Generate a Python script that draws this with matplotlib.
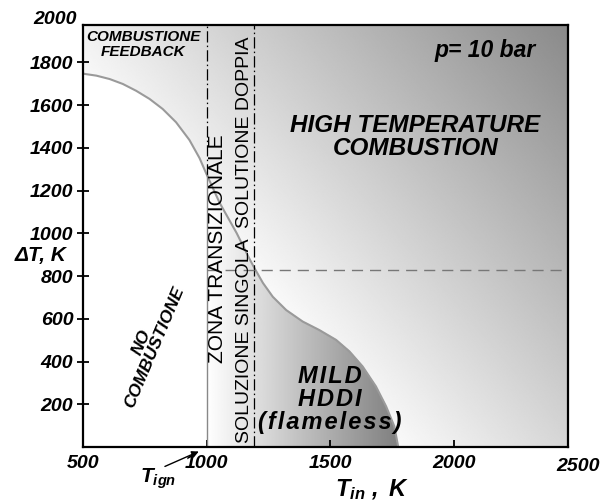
import numpy as np
import matplotlib
matplotlib.use("Agg")
import matplotlib.pyplot as plt

plt.rcParams['font.family'] = ['Liberation Sans', 'DejaVu Sans']
plt.rcParams['mathtext.fontset'] = 'custom'
plt.rcParams['mathtext.rm'] = 'Liberation Sans'
plt.rcParams['mathtext.it'] = 'Liberation Sans:italic'
plt.rcParams['mathtext.bf'] = 'Liberation Sans:bold'
plt.rcParams['mathtext.bfit'] = 'Liberation Sans:bold:italic'

# --- data ---
curve_T = [500, 507, 554, 608, 661, 715, 769, 822, 876, 930, 971, 998,
           1052, 1121, 1173, 1194, 1227, 1267, 1321, 1388, 1454, 1523,
           1577, 1630, 1684, 1725, 1758, 1774]
curve_dT = [1748, 1746, 1738, 1722, 1699, 1667, 1629, 1582, 1520, 1437, 1352, 1280,
            1143, 1001, 880, 835, 768, 703, 641, 587, 548, 501,
            447, 377, 283, 190, 97, 0]
T_ign = 1000
T_double = 1190
dT_split = 830
xticks = [500, 1000, 1500, 2000, 2500]
xtick_labels = ['500', '1000', '1500', '2000', '2500']
yticks = [200, 400, 600, 800, 1000, 1200, 1400, 1600, 1800, 2000]
ytick_labels = ['200', '400', '600', '800', '1000', '1200', '1400', '1600', '1800', '2000']
xlim = (500, 2460)
ylim = (0, 1975)

fig = plt.figure(figsize=(6.01, 5.04), dpi=100)
ax = fig.add_axes([83/601, 1-447/504, 485/601, 422/504])
ax.set_xlim(*xlim)
ax.set_ylim(*ylim)

# --- background shading ---
nx, ny = 700, 600
Tg = np.linspace(xlim[0], xlim[1], nx)
Dg = np.linspace(ylim[0], ylim[1], ny)
TT, DD = np.meshgrid(Tg, Dg)
cT = np.interp(TT, curve_T, curve_dT, right=0)
u = (TT - xlim[0]) / (xlim[1] - xlim[0])
w = (DD - ylim[0]) / (ylim[1] - ylim[0])
above = np.clip(1.24 - 0.40 * u - 0.30 * w, 0, 1)
below = np.where(TT < T_ign, 1.0,
                 np.clip(1.0 - 0.50 * (TT - T_ign) / (curve_T[-1] - T_ign), 0, 1))
img = np.where(DD > cT, above, below)
ax.imshow(img, extent=(xlim[0], xlim[1], ylim[0], ylim[1]), origin='lower',
          cmap='gray', vmin=0, vmax=1, aspect='auto', interpolation='bilinear', zorder=0)

# --- curve ---
ax.plot(curve_T, curve_dT, color='#9a9a9a', lw=1.5, zorder=2, solid_joinstyle='round')

# vertical lines
c_ign = np.interp(T_ign, curve_T, curve_dT)
dashdot = (0, (9, 2.5, 1.2, 2.5))
ax.plot([T_ign, T_ign], [c_ign, ylim[1]], color='black', lw=0.9, ls=dashdot, zorder=3)
ax.plot([T_ign, T_ign], [0, c_ign], color='#888888', lw=1.0, zorder=3)
ax.plot([T_double, T_double], [0, ylim[1]], color='black', lw=0.9, ls=dashdot, zorder=3)
# horizontal dashed line
ax.plot([T_ign, xlim[1]], [dT_split, dT_split], color='#777777', lw=1.0, ls=(0, (8, 5)), zorder=3)

# --- axes styling ---
for s in ax.spines.values():
    s.set_linewidth(1.6)
    s.set_zorder(5)
tick_font = dict(fontsize=14, fontweight='bold', fontstyle='italic')
ax.tick_params(axis='x', direction='in', length=5, width=1.3, pad=6)
ax.tick_params(axis='y', direction='inout', length=8, width=1.3, pad=3)
ax.set_xticks([t for t in xticks if xlim[0] <= t <= xlim[1]])
ax.set_xticklabels([l for t, l in zip(xticks, xtick_labels) if xlim[0] <= t <= xlim[1]], **tick_font)
ax.set_yticks([t for t in yticks if ylim[0] <= t <= ylim[1]])
ax.set_yticklabels([l for t, l in zip(yticks, ytick_labels) if ylim[0] <= t <= ylim[1]], **tick_font)
for t, l in zip(xticks, xtick_labels):
    if t > xlim[1]:
        ax.text(t, -0.027 * (ylim[1]-ylim[0]), l, ha='center', va='top', clip_on=False, **tick_font)
for t, l in zip(yticks, ytick_labels):
    if t > ylim[1]:
        ax.text(xlim[0] - 0.012 * (xlim[1]-xlim[0]), t, l, ha='right', va='center', clip_on=False, **tick_font)

# axis labels
fig.text(41/601, 1-255/504, 'ΔT, K', ha='center', va='center', fontsize=15,
         fontweight='bold', fontstyle='italic')
fig.text(372/601, 1-490/504, r'$\mathbfit{T}_{\mathbfit{in}}\mathbfit{\ ,\ K}$',
         ha='center', va='center', fontsize=17)

# T_ign annotation
ax.text(803, -150, r'$\mathbfit{T}_{\mathbfit{ign}}$', ha='center', va='center', fontsize=15, clip_on=False)
ax.annotate('', xy=(968, -21), xytext=(831, -91), annotation_clip=False,
            arrowprops=dict(arrowstyle='-|>', color='black', lw=1.0, mutation_scale=10,
                            shrinkA=0, shrinkB=0))

bi = dict(fontweight='bold', fontstyle='italic', ha='center', va='center')
ax.text(744, 1885, 'COMBUSTIONE\nFEEDBACK', fontsize=11, linespacing=1.05, **bi)
ax.text(2125, 1854, 'p= 10 bar', fontsize=16.5, **bi)
ax.text(1843, 1450, 'HIGH TEMPERATURE\nCOMBUSTION', fontsize=17.5, linespacing=1.0, **bi)
hs = '\u200a'
ax.text(1496, 221, hs.join('MILD') + '\n' + hs.join('HDDI') + '\n' + hs.join('(flameless)'),
        fontsize=17, linespacing=1.0, **bi)
ax.text(762, 478, 'NO\nCOMBUSTIONE', fontsize=12.5, rotation=67, linespacing=0.95, **bi)
ax.text(1044, 930, 'ZONA TRANSIZIONALE', fontsize=15, rotation=90, ha='center', va='center')
ax.text(1153, 497, 'SOLUZIONE SINGOLA', fontsize=14, rotation=90, ha='center', va='center')
ax.text(1153, 1472, 'SOLUTIONE DOPPIA', fontsize=14, rotation=90, ha='center', va='center')

fig.savefig('out.png', dpi=100)
